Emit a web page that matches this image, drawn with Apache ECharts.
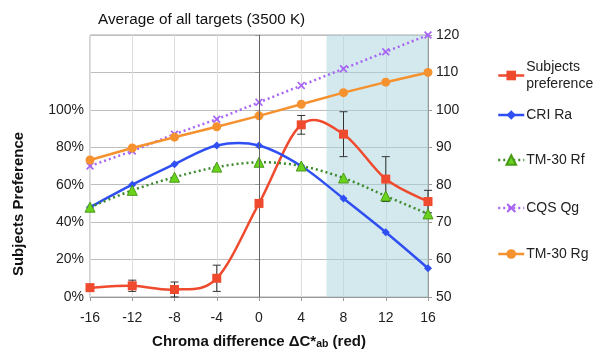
<!DOCTYPE html>
<html>
<head>
<meta charset="utf-8">
<script src="https://cdn.jsdelivr.net/npm/echarts@6/dist/echarts.min.js"></script>
<style>
  html, body { margin: 0; padding: 0; background: #fff; }
  #chart { width: 598px; height: 351px; }
</style>
</head>
<body>
<div id="chart"></div>
<script>
// chroma difference (x)
const xValues = [-16, -12, -8, -4, 0, 4, 8, 12, 16]
// subjects preference, percent (left axis)
const preference = [5, 6, 4, 10, 50, 92, 87, 63, 51]
const preferenceErr = [0, 3, 4, 7, 0, 5, 12, 12, 6]
// colour metrics (right axis)
const criRa = [74, 80, 85.5, 90.5, 90.5, 85, 76.3, 67.3, 57.7]
const tm30Rf = [74, 78.5, 82, 84.7, 86, 85, 81.8, 77, 72.2]
const cqsQg = [85, 89, 93.5, 97.5, 102, 106.5, 111, 115.5, 120]
const tm30Rg = [86.6, 89.8, 92.7, 95.5, 98.4, 101.5, 104.6, 107.4, 110]
// shaded band on x
const bandFrom = 6.4
const bandTo = 16

const pair = arr => xValues.map((x, i) => [x, arr[i]])
const font = 'Liberation Sans, Arial, sans-serif'
const crossPath = 'path://M0,1.5 L1.5,0 L5,3.5 L8.5,0 L10,1.5 L6.5,5 L10,8.5 L8.5,10 L5,6.5 L1.5,10 L0,8.5 L3.5,5 Z'

const RED = '#ef4a2e'
const BLUE = '#2f4ff2'
const GREEN = '#3d8a2e'
const PURPLE = '#a765f5'
const ORANGE = '#f5922f'

// smoothed curve (excel style, catmull-rom) drawn segment by segment
function curve (name, arr, yAxisIndex, color, dash) {
  return {
    name: name,
    type: 'custom',
    yAxisIndex: yAxisIndex,
    z: 3,
    silent: true,
    data: pair(arr).slice(0, -1),
    renderItem: (params, api) => {
      const i = params.dataIndex
      const n = arr.length
      const pt = k => api.coord([xValues[Math.max(0, Math.min(n - 1, k))], arr[Math.max(0, Math.min(n - 1, k))]])
      const p0 = pt(i - 1), p1 = pt(i), p2 = pt(i + 1), p3 = pt(i + 2)
      return {
        type: 'bezierCurve',
        shape: {
          x1: p1[0], y1: p1[1], x2: p2[0], y2: p2[1],
          cpx1: p1[0] + (p2[0] - p0[0]) / 6, cpy1: p1[1] + (p2[1] - p0[1]) / 6,
          cpx2: p2[0] - (p3[0] - p1[0]) / 6, cpy2: p2[1] - (p3[1] - p1[1]) / 6
        },
        style: { stroke: color, lineWidth: 2.5, fill: null, lineDash: dash || null }
      }
    }
  }
}

const chart = echarts.init(document.getElementById('chart'))

const legendAt = (name, top, lineStyle, extra) => Object.assign({
  data: [{ name: name, lineStyle: lineStyle }],
  left: 497,
  top: top,
  padding: 0,
  itemWidth: 26,
  itemHeight: 12,
  itemGap: 0,
  textStyle: { fontFamily: font, fontSize: 14, color: '#222', padding: [0, 0, 0, -3] }
}, extra || {})

chart.setOption({
  animation: false,
  title: {
    text: 'Average of all targets (3500 K)',
    left: 93,
    top: 7,
    textStyle: { fontFamily: font, fontSize: 15.3, fontWeight: 'normal', color: '#111' }
  },
  legend: [
    legendAt('Subjects preference', 50, { color: RED, width: 2.5, opacity: 1 }, {
      formatter: () => 'Subjects\npreference',
      textStyle: { fontFamily: font, fontSize: 14, color: '#222', lineHeight: 17, padding: [17, 0, 0, -3] }
    }),
    legendAt('CRI Ra', 108, { color: BLUE, width: 2.5, opacity: 1 }),
    legendAt('TM-30 Rf', 153, { color: GREEN, width: 2.5, opacity: 1, type: [2, 3] }),
    legendAt('CQS Qg', 201, { color: PURPLE, width: 2.5, opacity: 1, type: [2, 3] }),
    legendAt('TM-30 Rg', 247, { color: ORANGE, width: 2.5, opacity: 1 })
  ],
  graphic: [{
    type: 'text',
    x: 19,
    y: 204,
    rotation: Math.PI / 2,
    style: {
      text: 'Subjects Preference',
      font: 'bold 15px ' + font,
      fill: '#111',
      align: 'center',
      verticalAlign: 'middle'
    }
  }],
  grid: {
    left: 90, right: 170, top: 35, bottom: 54,
    outerBoundsMode: 'none',
    show: true, borderColor: '#aaa', borderWidth: 1
  },
  xAxis: {
    type: 'value',
    min: -16,
    max: 16,
    interval: 4,
    name: 'Chroma difference \u0394C*{sub|ab} (red)',
    nameLocation: 'middle',
    nameGap: 36,
    nameTextStyle: {
      fontFamily: font, fontSize: 15, fontWeight: 'bold', color: '#111',
      rich: { sub: { fontFamily: font, fontSize: 10.5, fontWeight: 'bold', color: '#111', padding: [6, 0, 0, 0] } }
    },
    axisLine: { lineStyle: { color: '#999' } },
    axisTick: { show: true, length: 4, lineStyle: { color: '#999' } },
    axisLabel: { fontFamily: font, fontSize: 14, color: '#222', margin: 14 },
    splitLine: { show: true, lineStyle: { color: '#dedede' } }
  },
  yAxis: [{
    type: 'value',
    min: 0,
    max: 140,
    interval: 20,
    axisLine: { show: true, lineStyle: { color: '#999' } },
    axisTick: { show: true, length: 4, lineStyle: { color: '#999' } },
    axisLabel: {
      fontFamily: font, fontSize: 14, color: '#222', margin: 6,
      formatter: v => v <= 100 ? v + '%' : ''
    },
    splitLine: { lineStyle: { color: '#bdbdbd' } }
  }, {
    type: 'value',
    min: 50,
    max: 120,
    interval: 10,
    position: 'right',
    axisLine: { show: true, lineStyle: { color: '#999' } },
    axisTick: { show: true, length: 4, lineStyle: { color: '#999' } },
    axisLabel: { fontFamily: font, fontSize: 14, color: '#222', margin: 8 },
    splitLine: { show: false }
  }],
  series: [{
    name: 'errors',
    type: 'custom',
    yAxisIndex: 0,
    z: 3,
    silent: true,
    data: xValues.map((x, i) => [x, preference[i] - preferenceErr[i], preference[i] + preferenceErr[i]])
      .filter((d, i) => preferenceErr[i] > 0),
    renderItem: (params, api) => {
      const lo = api.coord([api.value(0), api.value(1)])
      const hi = api.coord([api.value(0), api.value(2)])
      const w = 4
      const st = { stroke: '#333', lineWidth: 1 }
      return {
        type: 'group',
        children: [
          { type: 'line', shape: { x1: lo[0], y1: lo[1], x2: hi[0], y2: hi[1] }, style: st },
          { type: 'line', shape: { x1: lo[0] - w, y1: lo[1], x2: lo[0] + w, y2: lo[1] }, style: st },
          { type: 'line', shape: { x1: hi[0] - w, y1: hi[1], x2: hi[0] + w, y2: hi[1] }, style: st }
        ]
      }
    },
    markArea: {
      silent: true,
      itemStyle: { color: 'rgba(170, 212, 219, 0.5)' },
      data: [[{ xAxis: bandFrom }, { xAxis: bandTo }]]
    },
    markLine: {
      silent: true,
      symbol: 'none',
      label: { show: false },
      lineStyle: { color: '#666', type: 'solid', width: 1 },
      data: [{ xAxis: 0 }]
    }
  },
  curve('curve-pref', preference, 0, RED),
  curve('curve-ra', criRa, 1, BLUE),
  curve('curve-rf', tm30Rf, 1, GREEN, [2, 3]),
  {
    name: 'Subjects preference',
    type: 'line',
    yAxisIndex: 0,
    z: 5,
    data: pair(preference),
    symbol: 'rect',
    symbolSize: 9,
    lineStyle: { color: RED, width: 2.5, opacity: 0 },
    itemStyle: { color: RED }
  }, {
    name: 'CRI Ra',
    type: 'line',
    yAxisIndex: 1,
    z: 4,
    data: pair(criRa),
    symbol: 'diamond',
    symbolSize: 8,
    lineStyle: { color: BLUE, width: 2.5, opacity: 0 },
    itemStyle: { color: BLUE }
  }, {
    name: 'TM-30 Rf',
    type: 'line',
    yAxisIndex: 1,
    z: 4,
    data: pair(tm30Rf),
    symbol: 'triangle',
    symbolSize: 10,
    lineStyle: { color: GREEN, width: 2.5, type: [2, 3], opacity: 0 },
    itemStyle: { color: '#6ad41c', borderColor: '#4a9a1a', borderWidth: 1 }
  }, {
    name: 'CQS Qg',
    type: 'line',
    yAxisIndex: 1,
    z: 4,
    data: pair(cqsQg),
    symbol: crossPath,
    symbolSize: 8,
    lineStyle: { color: PURPLE, width: 2.5, type: [2, 3] },
    itemStyle: { color: PURPLE }
  }, {
    name: 'TM-30 Rg',
    type: 'line',
    yAxisIndex: 1,
    z: 4,
    data: pair(tm30Rg),
    symbol: 'circle',
    symbolSize: 9,
    lineStyle: { color: ORANGE, width: 2.5 },
    itemStyle: { color: ORANGE }
  }]
})
</script>
</body>
</html>
